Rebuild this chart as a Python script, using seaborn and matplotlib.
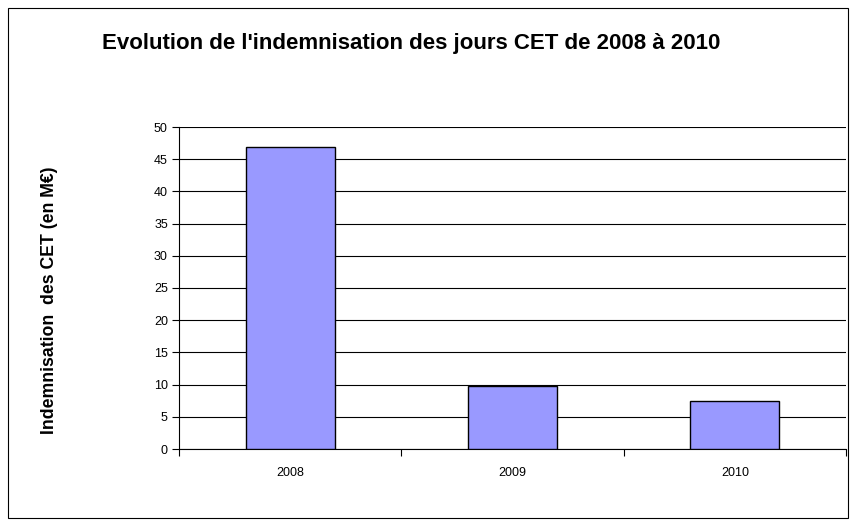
import pandas as pd
import numpy as np
import matplotlib.pyplot as plt
import seaborn as sns
from matplotlib.patches import Rectangle

# values
years = ['2008', '2009', '2010']
montants = [46.9, 9.8, 7.5]

df = pd.DataFrame({'annee': years, 'montant': montants})

sns.set_style('white')
plt.rcParams['font.family'] = ['Liberation Sans', 'DejaVu Sans']
plt.rcParams['text.color'] = 'black'
plt.rcParams['xtick.color'] = 'black'
plt.rcParams['ytick.color'] = 'black'

fig = plt.figure(figsize=(8.55, 5.26), dpi=100)
ax = fig.add_axes([179 / 855, 1 - 449 / 526, (846 - 179) / 855, (449 - 127) / 526])

sns.barplot(data=df, x='annee', y='montant', color='#9999FF', saturation=1,
            edgecolor='black', linewidth=1, width=0.4, ax=ax, zorder=3)

# grid lines every 5
ax.set_ylim(0, 50)
ax.set_yticks(np.arange(0, 51, 5))
ax.yaxis.grid(True, color='black', linewidth=0.8)
ax.set_axisbelow(True)
ax.set_xlim(-0.5, 2.5)

# ticks on the category boundaries
ax.set_xticks([-0.5, 0.5, 1.5, 2.5], minor=True)
ax.tick_params(axis='x', which='minor', length=5, width=0.8, color='black', direction='out')
ax.tick_params(axis='x', which='major', length=0, pad=13, labelsize=9)
ax.tick_params(axis='y', length=5, width=0.8, color='black', direction='out', labelsize=9, pad=3)
ax.xaxis.set_ticks_position('bottom')
ax.yaxis.set_ticks_position('left')

for s in ['top', 'right']:
    ax.spines[s].set_visible(False)
for s in ['left', 'bottom']:
    ax.spines[s].set_color('black')
    ax.spines[s].set_linewidth(0.8)

ax.set_xlabel('')
ax.set_ylabel('')

fig.text(50 / 855, 1 - 300 / 526, 'Indemnisation  des CET (en M€)', rotation=90,
         ha='center', va='center', fontsize=12.7, fontweight='bold')
fig.text(411 / 855, 1 - 43 / 526, "Evolution de l'indemnisation des jours CET de 2008 à 2010",
         ha='center', va='center', fontsize=16, fontweight='bold')

# outer frame of the chart
fig.patches.append(Rectangle((8 / 855, 8 / 526), 840 / 855, 510 / 526, transform=fig.transFigure,
                             fill=False, edgecolor='black', linewidth=0.8))

fig.savefig('out.png', dpi=100)
